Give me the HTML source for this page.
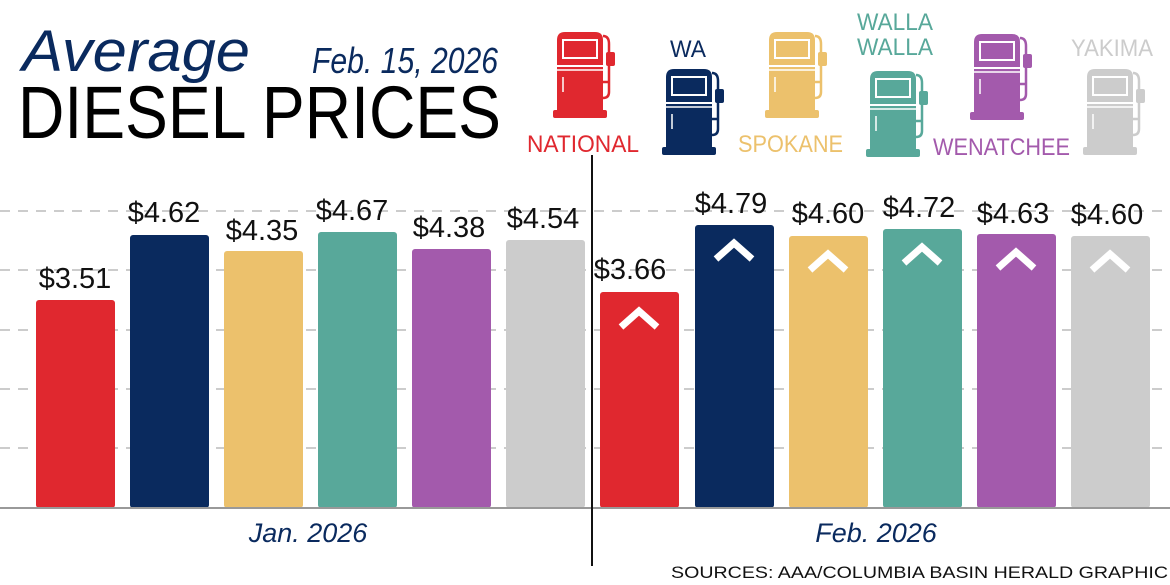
<!DOCTYPE html>
<html><head><meta charset="utf-8"><style>
html,body{margin:0;padding:0;background:#fff;}
svg{display:block;font-family:"Liberation Sans",sans-serif;}
</style></head><body>
<svg width="1170" height="585" viewBox="0 0 1170 585" xmlns="http://www.w3.org/2000/svg">
<defs>
<g id="pump">
  <path d="M0,8 Q0,0 8,0 L38,0 Q46,0 46,8 L46,78 L0,78 Z"/>
  <rect x="-4" y="78" width="54" height="8" rx="2"/>
  <rect x="6" y="8" width="34" height="18" fill="none" stroke="#fff" stroke-width="2"/>
  <line x1="0" y1="34" x2="46" y2="34" stroke="#fff" stroke-width="2"/>
  <line x1="0" y1="38" x2="46" y2="38" stroke="#fff" stroke-width="1.5"/>
  <line x1="6" y1="45" x2="6" y2="60" stroke="#fff" stroke-width="1.5"/>
  <path d="M46,4 Q52,4 52,12 L52,20 M52,30 L52,60 Q52,66 46,66" fill="none" stroke-width="2.5" stroke="currentColor"/>
  <rect x="49" y="20" width="9" height="14" rx="2"/>
  <line x1="46" y1="50" x2="53" y2="50" stroke="currentColor" stroke-width="2.5"/>
</g>
</defs>
<!-- titles -->
<text x="22" y="71" font-size="58" font-style="italic" fill="#0a2a5e" textLength="228" lengthAdjust="spacingAndGlyphs" font-weight="300">Average</text>
<text x="312" y="73" font-size="36" font-style="italic" fill="#0a2a5e" textLength="186" lengthAdjust="spacingAndGlyphs">Feb. 15, 2026</text>
<text x="18" y="138" font-size="74" fill="#000" textLength="483" lengthAdjust="spacingAndGlyphs">DIESEL PRICES</text>
<!-- pumps -->
<g fill="#e0282f" color="#e0282f"><use href="#pump" transform="translate(557,32)"/></g>
<g fill="#0a2a5e" color="#0a2a5e"><use href="#pump" transform="translate(666,69)"/></g>
<g fill="#ecc16c" color="#ecc16c"><use href="#pump" transform="translate(769,32)"/></g>
<g fill="#58a89a" color="#58a89a"><use href="#pump" transform="translate(870,71)"/></g>
<g fill="#a35aac" color="#a35aac"><use href="#pump" transform="translate(974,34)"/></g>
<g fill="#cccccc" color="#cccccc"><use href="#pump" transform="translate(1087,69)"/></g>
<g font-size="24">
<text x="527" y="152" fill="#e0282f" textLength="112" lengthAdjust="spacingAndGlyphs">NATIONAL</text>
<text x="670" y="57" fill="#0a2a5e" textLength="36" lengthAdjust="spacingAndGlyphs">WA</text>
<text x="738" y="152" fill="#ecc16c" textLength="105" lengthAdjust="spacingAndGlyphs">SPOKANE</text>
<text x="857" y="30" fill="#58a89a" textLength="76" lengthAdjust="spacingAndGlyphs">WALLA</text>
<text x="857" y="55" fill="#58a89a" textLength="76" lengthAdjust="spacingAndGlyphs">WALLA</text>
<text x="933" y="155" fill="#a35aac" textLength="137" lengthAdjust="spacingAndGlyphs">WENATCHEE</text>
<text x="1071" y="56" fill="#cccccc" textLength="82" lengthAdjust="spacingAndGlyphs">YAKIMA</text>
</g>
<!-- grid -->
<g stroke="#bbb" stroke-width="1.5" stroke-dasharray="10,8">
<line x1="0" y1="211" x2="1170" y2="211"/>
<line x1="0" y1="270" x2="1170" y2="270"/>
<line x1="0" y1="330" x2="1170" y2="330"/>
<line x1="0" y1="389" x2="1170" y2="389"/>
<line x1="0" y1="448" x2="1170" y2="448"/>
</g>
<!-- bars -->
<g>
<rect x="36" y="300" width="79" height="208" rx="3" fill="#e0282f"/>
<rect x="130" y="235" width="79" height="273" rx="3" fill="#0a2a5e"/>
<rect x="224" y="251" width="79" height="257" rx="3" fill="#ecc16c"/>
<rect x="318" y="232" width="79" height="276" rx="3" fill="#58a89a"/>
<rect x="412" y="249" width="79" height="259" rx="3" fill="#a35aac"/>
<rect x="506" y="240" width="79" height="268" rx="3" fill="#cccccc"/>
<rect x="600" y="292" width="79" height="216" rx="3" fill="#e0282f"/>
<rect x="695" y="225" width="79" height="283" rx="3" fill="#0a2a5e"/>
<rect x="789" y="236" width="79" height="272" rx="3" fill="#ecc16c"/>
<rect x="883" y="229" width="79" height="279" rx="3" fill="#58a89a"/>
<rect x="977" y="234" width="79" height="274" rx="3" fill="#a35aac"/>
<rect x="1071" y="236" width="79" height="272" rx="3" fill="#cccccc"/>
</g>
<!-- arrows -->
<g fill="none" stroke="#fff" stroke-width="7" stroke-linecap="butt">
<polyline points="621,327 639,311 657,327"/>
<polyline points="716,259 734,243 752,259"/>
<polyline points="810,270 828,254 846,270"/>
<polyline points="904,263 922,247 940,263"/>
<polyline points="998,268 1016,252 1034,268"/>
<polyline points="1092,270 1110,254 1128,270"/>
</g>
<!-- value labels -->
<g font-size="29" fill="#111" text-anchor="middle">
<text x="75" y="288">$3.51</text>
<text x="164" y="222">$4.62</text>
<text x="262" y="240">$4.35</text>
<text x="352" y="220">$4.67</text>
<text x="449" y="237">$4.38</text>
<text x="543" y="228">$4.54</text>
<text x="630" y="279">$3.66</text>
<text x="731" y="213">$4.79</text>
<text x="828" y="223">$4.60</text>
<text x="919" y="217">$4.72</text>
<text x="1013" y="223">$4.63</text>
<text x="1107" y="224">$4.60</text>
</g>
<!-- axis -->
<line x1="0" y1="508" x2="1170" y2="508" stroke="#999" stroke-width="2"/>
<line x1="592" y1="155" x2="592" y2="566" stroke="#111" stroke-width="2"/>
<text x="308" y="542" font-size="27" font-style="italic" fill="#0a2a5e" text-anchor="middle">Jan. 2026</text>
<text x="876" y="542" font-size="27" font-style="italic" fill="#0a2a5e" text-anchor="middle">Feb. 2026</text>
<text x="1168" y="578" font-size="17" fill="#111" text-anchor="end" textLength="497" lengthAdjust="spacingAndGlyphs">SOURCES: AAA/COLUMBIA BASIN HERALD GRAPHIC</text>
</svg>
</body></html>
